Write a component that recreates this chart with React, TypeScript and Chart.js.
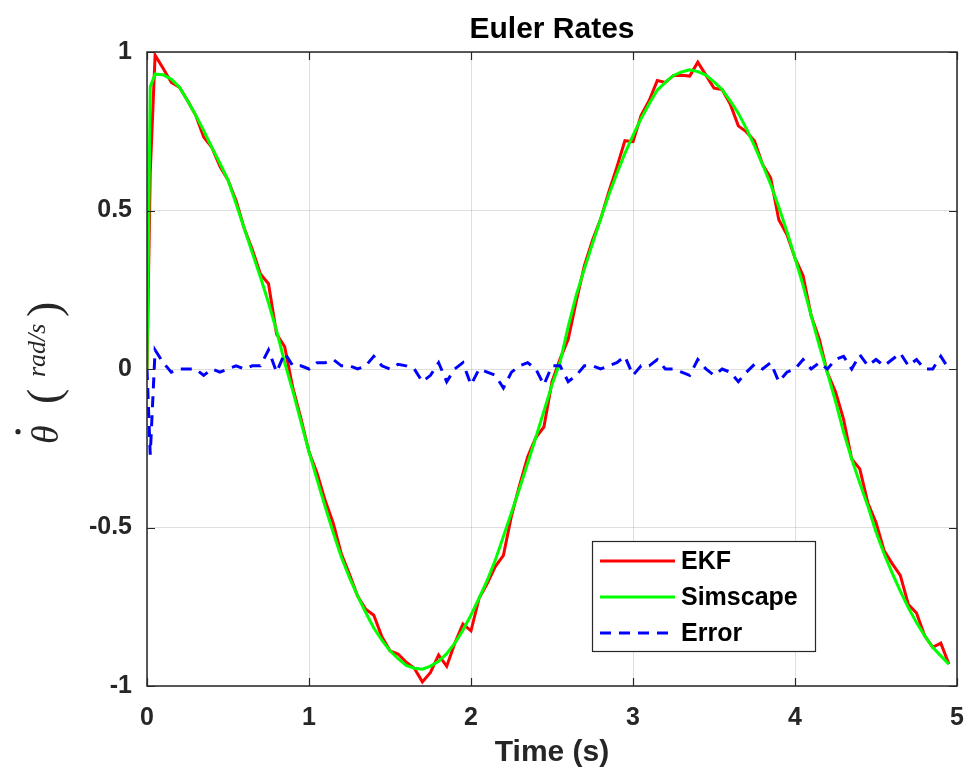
import React, { useEffect, useRef } from "react";
import { Chart, registerables } from "chart.js";

Chart.register(...registerables);

// Sample times (s)
const time = [
  0, 0.02, 0.05, 0.1, 0.15, 0.2, 0.25, 0.3, 0.35, 0.4, 0.45, 0.5, 0.55, 0.6, 0.65, 0.7, 0.75, 0.8, 0.85, 0.9,
  0.95, 1, 1.05, 1.1, 1.15, 1.2, 1.25, 1.3, 1.35, 1.4, 1.45, 1.5, 1.55, 1.6, 1.65, 1.7, 1.75, 1.8, 1.85, 1.9,
  1.95, 2, 2.05, 2.1, 2.15, 2.2, 2.25, 2.3, 2.35, 2.4, 2.45, 2.5, 2.55, 2.6, 2.65, 2.7, 2.75, 2.8, 2.85, 2.9,
  2.95, 3, 3.05, 3.1, 3.15, 3.2, 3.25, 3.3, 3.35, 3.4, 3.45, 3.5, 3.55, 3.6, 3.65, 3.7, 3.75, 3.8, 3.85, 3.9,
  3.95, 4, 4.05, 4.1, 4.15, 4.2, 4.25, 4.3, 4.35, 4.4, 4.45, 4.5, 4.55, 4.6, 4.65, 4.7, 4.75, 4.8, 4.85, 4.9,
  4.95,
];

// Pitch rate from the Simscape model (rad/s)
const simscape = [
  0, 0.89, 0.93, 0.928, 0.914, 0.889, 0.847, 0.801, 0.752, 0.699,
  0.649, 0.596, 0.521, 0.444, 0.367, 0.29, 0.209, 0.12, 0.02, -0.069,
  -0.166, -0.261, -0.349, -0.435, -0.517, -0.594, -0.658, -0.716, -0.768, -0.817,
  -0.855, -0.889, -0.914, -0.935, -0.944, -0.947, -0.937, -0.922, -0.898, -0.865,
  -0.824, -0.776, -0.723, -0.667, -0.603, -0.528, -0.453, -0.376, -0.297, -0.216,
  -0.133, -0.05, 0.022, 0.134, 0.234, 0.316, 0.396, 0.473, 0.548, 0.616,
  0.68, 0.737, 0.79, 0.837, 0.88, 0.904, 0.926, 0.937, 0.944, 0.938,
  0.927, 0.906, 0.882, 0.846, 0.807, 0.758, 0.704, 0.645, 0.582, 0.511,
  0.434, 0.35, 0.264, 0.168, 0.074, -0.012, -0.102, -0.199, -0.284, -0.36,
  -0.433, -0.514, -0.583, -0.644, -0.701, -0.753, -0.8, -0.841, -0.878, -0.905,
  -0.931,
];

// Pitch rate estimated by the EKF (rad/s)
const ekf = [
  0, 0.62, 0.99, 0.948, 0.904, 0.889, 0.847, 0.801, 0.732, 0.699,
  0.639, 0.596, 0.531, 0.444, 0.377, 0.3, 0.269, 0.11, 0.07, -0.059,
  -0.156, -0.261, -0.329, -0.415, -0.487, -0.584, -0.648, -0.716, -0.758, -0.777,
  -0.845, -0.889, -0.899, -0.925, -0.944, -0.987, -0.957, -0.902, -0.938, -0.865,
  -0.804, -0.826, -0.723, -0.677, -0.623, -0.588, -0.463, -0.366, -0.277, -0.216,
  -0.183, -0.04, 0.032, 0.094, 0.214, 0.326, 0.406, 0.473, 0.558, 0.636,
  0.72, 0.717, 0.8, 0.847, 0.91, 0.904, 0.926, 0.927, 0.924, 0.968,
  0.927, 0.886, 0.882, 0.836, 0.767, 0.748, 0.719, 0.645, 0.602, 0.471,
  0.424, 0.35, 0.294, 0.168, 0.094, -0.012, -0.072, -0.159, -0.284, -0.315,
  -0.423, -0.484, -0.573, -0.614, -0.651, -0.743, -0.77, -0.841, -0.878, -0.865,
  -0.931,
];

// Estimation error, EKF minus Simscape (rad/s)
const estError = [
  0, -0.27, 0.06, 0.02, -0.01, 0, 0, 0, -0.02, 0,
  -0.01, 0, 0.01, 0, 0.01, 0.01, 0.06, -0.01, 0.05, 0.01,
  0.01, 0, 0.02, 0.02, 0.03, 0.01, 0.01, 0, 0.01, 0.04,
  0.01, 0, 0.015, 0.01, 0, -0.04, -0.02, 0.02, -0.04, 0,
  0.02, -0.05, 0, -0.01, -0.02, -0.06, -0.01, 0.01, 0.02, 0,
  -0.05, 0.01, 0.01, -0.04, -0.02, 0.01, 0.01, 0, 0.01, 0.02,
  0.04, -0.02, 0.01, 0.01, 0.03, 0, 0, -0.01, -0.02, 0.03,
  0, -0.02, 0, -0.01, -0.04, -0.01, 0.015, 0, 0.02, -0.04,
  -0.01, 0, 0.03, 0, 0.02, 0, 0.03, 0.04, 0, 0.045,
  0.01, 0.03, 0.01, 0.03, 0.05, 0.01, 0.03, 0, 0, 0.04,
  0,
];

const xTicks = [0, 1, 2, 3, 4, 5];
const xTickLabels = ["0", "1", "2", "3", "4", "5"];
const yTicks = [-1, -0.5, 0, 0.5, 1];
const yTickLabels = ["-1", "-0.5", "0", "0.5", "1"];

const seriesNames = ["EKF", "Simscape", "Error"];
const titleText = "Euler Rates";
const xTitleText = "Time (s)";

const AXIS_COLOR = "#262626";
const SANS = "'Liberation Sans', Arial, Helvetica, sans-serif";
const SERIF = "'Liberation Serif', 'Times New Roman', serif";

const toPoints = (ys: number[]) => time.map((t, i) => ({ x: t, y: ys[i] }));

// Box, inward ticks, title, axis titles and the in-plot legend
const decorations = {
  id: "decorations",
  afterDraw(chart: any) {
    const { ctx, chartArea: a, scales } = chart;
    ctx.save();

    // axes box
    ctx.strokeStyle = AXIS_COLOR;
    ctx.lineWidth = 1.5;
    ctx.strokeRect(a.left, a.top, a.right - a.left, a.bottom - a.top);

    // inward tick marks on all four sides
    const tl = 8;
    ctx.lineWidth = 1.2;
    ctx.beginPath();
    xTicks.forEach((v) => {
      const px = Math.round(scales.x.getPixelForValue(v)) + 0.5;
      ctx.moveTo(px, a.bottom);
      ctx.lineTo(px, a.bottom - tl);
      ctx.moveTo(px, a.top);
      ctx.lineTo(px, a.top + tl);
    });
    yTicks.forEach((v) => {
      const py = Math.round(scales.y.getPixelForValue(v)) + 0.5;
      ctx.moveTo(a.left, py);
      ctx.lineTo(a.left + tl, py);
      ctx.moveTo(a.right, py);
      ctx.lineTo(a.right - tl, py);
    });
    ctx.stroke();

    // title
    const cx = (a.left + a.right) / 2;
    ctx.fillStyle = "#000";
    ctx.font = `bold 30px ${SANS}`;
    ctx.textAlign = "center";
    ctx.textBaseline = "middle";
    ctx.fillText(titleText, cx, 30);

    // x axis title
    ctx.fillStyle = AXIS_COLOR;
    ctx.font = `bold 30px ${SANS}`;
    ctx.fillText(xTitleText, cx, 753);

    // y axis title: theta-dot (rad/s), rotated
    const cy = (a.top + a.bottom) / 2;
    ctx.save();
    ctx.translate(58, cy);
    ctx.rotate(-Math.PI / 2);
    ctx.textAlign = "left";
    ctx.textBaseline = "alphabetic";
    ctx.fillStyle = AXIS_COLOR;
    ctx.font = `italic 38px ${SERIF}`;
    const thetaW = ctx.measureText("\u03B8").width;
    const start = -75;
    ctx.fillText("\u03B8", start, 0);
    ctx.beginPath();
    ctx.arc(start + thetaW / 2 + 3, -40, 2.6, 0, Math.PI * 2);
    ctx.fill();
    ctx.font = `46px ${SERIF}`;
    ctx.fillText("(", -35, 1);
    ctx.fillText(")", 52, 1);
    ctx.font = `italic 26px ${SERIF}`;
    ctx.fillText("rad/s", -8, -13);
    ctx.restore();

    // legend
    const bx = a.left + 445;
    const by = a.top + 489;
    const bw = 223;
    const bh = 110;
    ctx.fillStyle = "#fff";
    ctx.fillRect(bx, by, bw, bh);
    ctx.strokeStyle = AXIS_COLOR;
    ctx.lineWidth = 1.2;
    ctx.strokeRect(bx + 0.5, by + 0.5, bw, bh);
    ctx.font = `bold 25px ${SANS}`;
    ctx.textAlign = "left";
    ctx.textBaseline = "middle";
    chart.data.datasets.forEach((ds: any, i: number) => {
      const y = by + 20 + i * 36;
      ctx.save();
      ctx.strokeStyle = ds.borderColor;
      ctx.lineWidth = ds.borderWidth;
      ctx.setLineDash(ds.borderDash || []);
      ctx.beginPath();
      ctx.moveTo(bx + 8, y);
      ctx.lineTo(bx + 83, y);
      ctx.stroke();
      ctx.restore();
      ctx.fillStyle = "#000";
      ctx.fillText(ds.label, bx + 89, y + 1);
    });

    ctx.restore();
  },
};

export default function App() {
  const canvasRef = useRef<HTMLCanvasElement | null>(null);

  useEffect(() => {
    const canvas = canvasRef.current;
    if (!canvas) return;
    const gridColor = "rgba(38,38,38,0.15)";
    const tickFont = { family: SANS, size: 25, weight: "bold" as const };

    const chart = new Chart(canvas, {
      type: "line",
      data: {
        datasets: [
          {
            label: seriesNames[0],
            data: toPoints(ekf),
            borderColor: "#ff0000",
            borderWidth: 3,
            pointRadius: 0,
            tension: 0,
            order: 2,
          },
          {
            label: seriesNames[1],
            data: toPoints(simscape),
            borderColor: "#00ff00",
            borderWidth: 3,
            pointRadius: 0,
            tension: 0,
            order: 1,
          },
          {
            label: seriesNames[2],
            data: toPoints(estError),
            borderColor: "#0000ff",
            borderWidth: 3,
            borderDash: [11, 8],
            pointRadius: 0,
            tension: 0,
            order: 0,
          },
        ],
      },
      options: {
        responsive: false,
        animation: false,
        events: [],
        layout: { padding: { top: 52, right: 20, left: 0, bottom: 0 } },
        plugins: {
          legend: { display: false },
          title: { display: false },
          tooltip: { enabled: false },
        },
        scales: {
          x: {
            type: "linear",
            min: 0,
            max: 5,
            afterBuildTicks: (s: any) => {
              s.ticks = xTicks.map((v) => ({ value: v }));
            },
            afterFit: (s: any) => {
              s.height = 96;
              s.paddingLeft = 0;
              s.paddingRight = 0;
            },
            ticks: {
              autoSkip: false,
              maxRotation: 0,
              padding: 17,
              color: AXIS_COLOR,
              font: tickFont,
              callback: (_v: any, i: number) => xTickLabels[i],
            },
            grid: { color: gridColor, lineWidth: 1, drawTicks: false },
            border: { display: false },
          },
          y: {
            type: "linear",
            min: -1,
            max: 1,
            afterBuildTicks: (s: any) => {
              s.ticks = yTicks.map((v) => ({ value: v }));
            },
            afterFit: (s: any) => {
              s.width = 147;
              s.paddingTop = 0;
              s.paddingBottom = 0;
            },
            ticks: {
              autoSkip: false,
              padding: 15,
              color: AXIS_COLOR,
              font: tickFont,
              callback: (_v: any, i: number) => yTickLabels[i],
            },
            grid: { color: gridColor, lineWidth: 1, drawTicks: false },
            border: { display: false },
          },
        },
      },
      plugins: [decorations],
    });

    return () => chart.destroy();
  }, []);

  return (
    <div style={{ position: "fixed", left: 0, top: 0, width: 977, height: 782, background: "#fff" }}>
      <canvas ref={canvasRef} width={977} height={782} style={{ display: "block" }} />
    </div>
  );
}
